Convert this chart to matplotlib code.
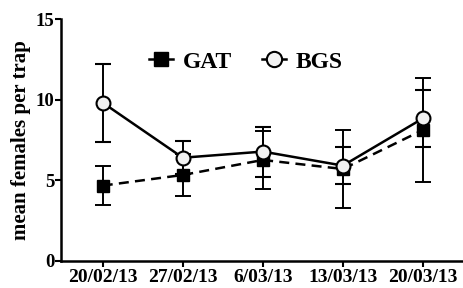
import numpy as np
import matplotlib.pyplot as plt
from matplotlib.lines import Line2D

## data
dates = ['20/02/13', '27/02/13', '6/03/13', '13/03/13', '20/03/13']
gat_mean = [4.67, 5.33, 6.26, 5.7, 8.12]
gat_err = [1.2, 1.3, 1.78, 2.4, 3.25]
bgs_mean = [9.81, 6.4, 6.78, 5.91, 8.84]
bgs_err = [2.42, 1.04, 1.55, 1.17, 1.76]

plt.rcParams['font.family'] = ['Liberation Serif', 'DejaVu Serif']
plt.rcParams['font.weight'] = 'bold'

fig = plt.figure(figsize=(4.63, 2.88), dpi=100)
ax = fig.add_axes([0.132, 0.094, 0.868, 0.84])

x = np.arange(len(dates))

## GAT - dashed line, filled squares
ax.errorbar(x, gat_mean, yerr=gat_err, color='black', linestyle=(0, (4, 2.5)), linewidth=1.8,
            marker='s', markersize=9, markerfacecolor='black', markeredgecolor='black',
            ecolor='black', elinewidth=1.4, capsize=6, capthick=1.4, zorder=3)
## BGS - solid line, open circles
ax.errorbar(x, bgs_mean, yerr=bgs_err, color='black', linestyle='-', linewidth=1.8,
            marker='o', markersize=10, markerfacecolor='#f2f2f2', markeredgecolor='black',
            markeredgewidth=1.5, ecolor='black', elinewidth=1.4, capsize=6, capthick=1.4,
            zorder=4)

ax.set_xlim(-0.52, 4.5)
ax.set_ylim(0, 15)
ax.set_yticks([0, 5, 10, 15])
ax.set_xticks(x)
ax.set_xticklabels(dates, fontsize=14, fontweight='bold')
ax.tick_params(axis='y', labelsize=13.5, width=1.5, length=4, pad=1)
ax.tick_params(axis='x', width=1.5, length=4, pad=2)
for lbl in ax.get_yticklabels():
    lbl.set_fontweight('bold')

ax.set_ylabel('mean females per trap', fontsize=15, fontweight='bold', labelpad=3)

ax.spines['top'].set_visible(False)
ax.spines['right'].set_visible(False)
ax.spines['left'].set_linewidth(1.8)
ax.spines['bottom'].set_linewidth(1.8)

handles = [
    Line2D([], [], color='black', linewidth=1.8, marker='s', markersize=10,
           markerfacecolor='black'),
    Line2D([], [], color='black', linewidth=1.8, marker='o', markersize=11,
           markerfacecolor='#f2f2f2', markeredgewidth=1.5),
]
leg = ax.legend(handles, ['GAT', 'BGS'], loc='upper center', bbox_to_anchor=(0.46, 0.955),
                ncol=2, frameon=False, prop={'size': 17, 'weight': 'bold'},
                handlelength=1.0, handletextpad=0.4, columnspacing=1.3)

fig.savefig('out.png', dpi=100)
